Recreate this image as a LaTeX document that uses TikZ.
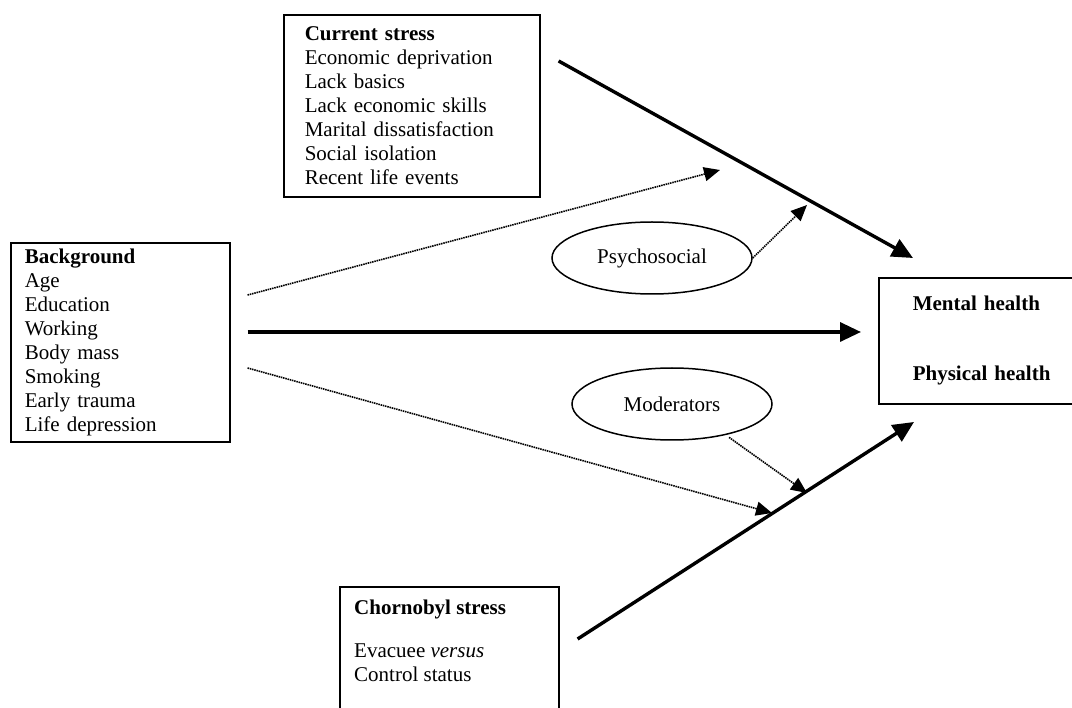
\documentclass[tikz,border=0pt]{standalone}
\usepackage{fontspec}
\setmainfont{Liberation Serif}
\usetikzlibrary{arrows.meta}
\usetikzlibrary{calc}
\usetikzlibrary{shapes}

\begin{document}
\begin{tikzpicture}[x=1pt,y=-1pt,
    box/.style={draw=black,line width=1.6pt,anchor=north west,align=left,font=\fontsize{21pt}{24pt}\selectfont},
    oval/.style={ellipse,draw=black,line width=1.5pt,minimum width=200pt,minimum height=72pt,inner sep=0pt,font=\fontsize{21pt}{24pt}\selectfont},
    strong/.style={-{Triangle[length=21pt,width=19pt]},line width=3.4pt},
    weak/.style={-{Triangle[length=16pt,width=14pt]},line width=1.6pt,dash pattern=on 1.5pt off 0.8pt}]

\useasboundingbox (0,0) rectangle (1072,708);

\node[box, text width=214pt, inner xsep=21pt, minimum height=182pt] (cur) at (283,14) {\textbf{Current stress}\\Economic deprivation\\Lack basics\\Lack economic skills\\Marital dissatisfaction\\Social isolation\\Recent life events};
\node[box, text width=191pt, inner xsep=14pt, inner ysep=2pt, minimum height=199pt] (bg) at (10,242) {\textbf{Background}\\Age\\Education\\Working\\Body mass\\Smoking\\Early trauma\\Life depression};
\node[box, text width=160pt, inner xsep=34pt, minimum height=126pt] (health) at (878,277) {\textbf{Mental health}\\[46pt]\textbf{Physical health}};

\node[box, minimum width=219pt, minimum height=150pt] (chern) at (339,586) {};
\node[anchor=north west, align=left, inner sep=0pt, font=\fontsize{21pt}{24pt}\selectfont] (cherntxt) at ($(chern.north west)+(15,14)$) {\textbf{Chornobyl stress}\\[19pt]Evacuee \textit{versus}\\Control status};

\node[oval] (psy) at (652,258) {Psychosocial};
\node[oval] (mod) at (672,404) {Moderators};

% ends of the connectors
\coordinate (cur-out) at ($(cur.north east)+(18,47)$);
\coordinate (bg-top) at ($(bg.north east)+(17,53)$);
\coordinate (bg-mid) at ($(bg.north east)+(17,90)$);
\coordinate (bg-low) at ($(bg.north east)+(17,126)$);
\coordinate (chern-out) at ($(chern.north east)+(18,53)$);
\coordinate (health-top) at ($(health.north west)+(35,-19)$);
\coordinate (health-mid) at ($(health.north west)+(-17,55)$);
\coordinate (health-low) at ($(health.north west)+(36,145)$);
\coordinate (cur-hit) at (720,170);
\coordinate (psy-hit) at (807,205);
\coordinate (chern-hit) at (772,513);
\coordinate (mod-hit) at (807,493);

\draw[strong] (cur-out) -- (health-top);
\draw[strong] (bg-mid) -- (health-mid);
\draw[strong] (chern-out) -- (health-low);

\draw[weak] (bg-top) -- (cur-hit);
\draw[weak] (psy.east) -- (psy-hit);
\draw[weak] (bg-low) -- (chern-hit);
\draw[weak,shorten <=4pt] (mod.-30) -- (mod-hit);

\end{tikzpicture}
\end{document}
